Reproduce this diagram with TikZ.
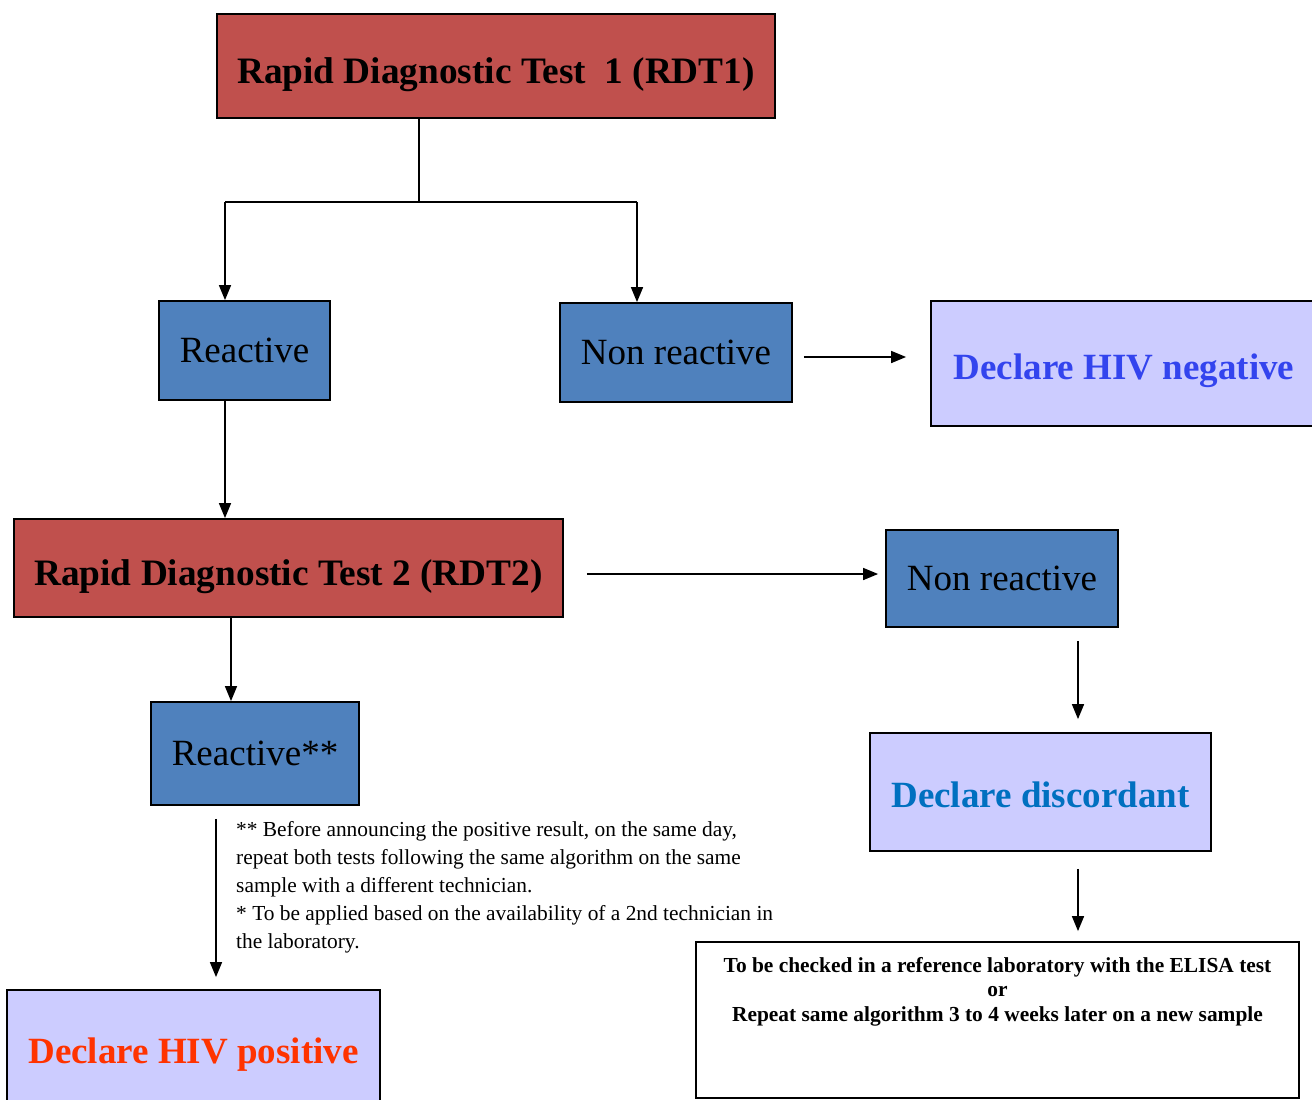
\documentclass[tikz,border=0pt]{standalone}
\usepackage{fontspec}
\setmainfont{Liberation Serif}
\usepackage{xcolor}
\usepackage{tikz}
\usetikzlibrary{arrows.meta,positioning}

\definecolor{rdtred}{HTML}{C0504D}
\definecolor{resblue}{HTML}{4F81BD}
\definecolor{declbg}{HTML}{CCCCFF}
\definecolor{negblue}{HTML}{3344EE}
\definecolor{discblue}{HTML}{0070C0}
\definecolor{posred}{HTML}{FF3300}

\begin{document}
\begin{tikzpicture}[x=1pt, y=-1pt,
    box/.style={draw=black, line width=1.8pt, inner sep=0pt, font=\fontsize{37}{40}\selectfont},
    rdtbox/.style={box, fill=rdtred, text height=38pt, text depth=4pt, font=\fontsize{37.3}{40}\selectfont\bfseries},
    resbox/.style={box, fill=resblue},
    declbox/.style={box, fill=declbg, text height=36pt, text depth=5pt, font=\fontsize{37}{40}\selectfont\bfseries},
    arr/.style={line width=1.6pt, -{Triangle[length=15pt,width=12pt]}},
    ln/.style={line width=1.6pt}]
  \useasboundingbox (0,0) rectangle (1312,1100);
  % 1 pt = 1 px of the reference
  \node[rdtbox, minimum width=558pt, minimum height=104pt] (rdt1) at (496,66) {Rapid Diagnostic Test\ \ 1 (RDT1)};
  \node[resbox, minimum width=171pt, minimum height=99pt] (react1) at (244.5,350.5) {Reactive};
  \node[resbox, minimum width=232pt, minimum height=99pt] (nonreact1) at (676,352.5) {Non reactive};
  \node[declbox, minimum width=389pt, minimum height=125pt, text=negblue] (neg) at (1125.5,363.5) {\hspace*{-3pt}Declare HIV negative};
  \node[rdtbox, minimum width=549pt, minimum height=98pt] (rdt2) at (288.5,568) {Rapid Diagnostic Test 2 (RDT2)};
  \node[resbox, minimum width=232pt, minimum height=97pt] (nonreact2) at (1002,578.5) {Non reactive};
  \node[resbox, minimum width=208pt, minimum height=103pt] (react2) at (255,753.5) {Reactive**};
  \node[declbox, minimum width=341pt, minimum height=118pt, text=discblue] (disc) at (1040.5,792) {Declare discordant};
  \node[declbox, minimum width=373pt, minimum height=122pt, text=posred, text height=33pt, text depth=8pt] (pos) at (193.5,1051) {Declare HIV positive};
  \node[box, minimum width=603pt, minimum height=156pt] (elisa) at (997.5,1020) {};
  \node[anchor=north, inner sep=0pt, align=center, font=\fontsize{21.4}{24.5}\selectfont\bfseries] (elisatxt) at ([yshift=-16pt]elisa.north)
    {To be checked in a reference laboratory with the ELISA test\\or\\Repeat same algorithm 3 to 4 weeks later on a new sample};
  \node[anchor=north west, inner sep=0pt, align=left, font=\fontsize{21.4}{28}\selectfont] (note) at (236,821)
    {** Before announcing the positive result, on the same day,\\
     repeat both tests following the same algorithm on the same\\
     sample with a different technician.\\
     * To be applied based on the availability of a 2nd technician in\\
     the laboratory.};

  % branch points
  \coordinate (split) at (419,202);
  \coordinate (left) at (225,202);
  \coordinate (right) at (637,202);
  \coordinate (colC) at (231,0);
  \coordinate (colD) at (1078,0);
  \coordinate (colE) at (216,0);

  \draw[ln] (rdt1.south -| split) -- (split);
  \draw[ln] (left) -- (right);
  \draw[arr] (left) -- (left |- react1.north);
  \draw[arr] (right) -- (right |- nonreact1.north);
  \draw[arr] (left |- react1.south) -- (left |- rdt2.north);
  \draw[arr, shorten <=11pt, shorten >=24pt] ([yshift=-4.5pt]nonreact1.east) -- ([yshift=-4.5pt]nonreact1.east -| neg.west);
  \draw[arr, shorten <=23pt, shorten >=7pt] ([yshift=-6pt]rdt2.east) -- ([yshift=-6pt]rdt2.east -| nonreact2.west);
  \draw[arr] (colC |- rdt2.south) -- (colC |- react2.north);
  \draw[arr, shorten <=13pt, shorten >=13pt] (colD |- nonreact2.south) -- (colD |- disc.north);
  \draw[arr, shorten <=17pt, shorten >=10pt] (colD |- disc.south) -- (colD |- elisa.north);
  \draw[arr, shorten <=13pt, shorten >=12pt] (colE |- react2.south) -- (colE |- pos.north);
\end{tikzpicture}
\end{document}
